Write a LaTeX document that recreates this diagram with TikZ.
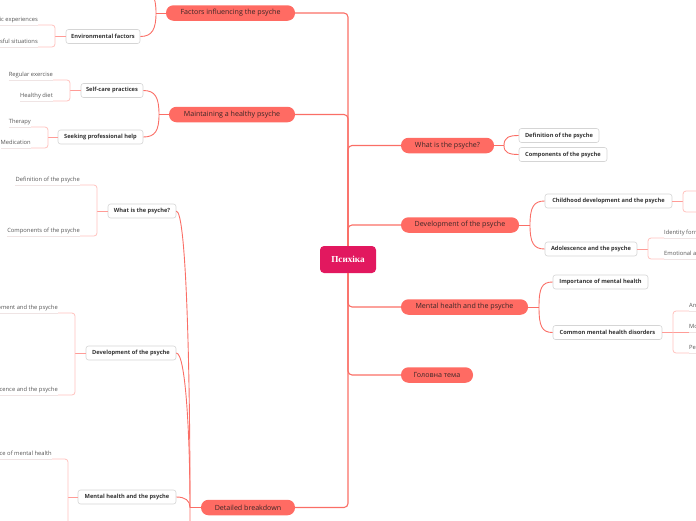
\documentclass[tikz,border=0pt]{standalone}
\usepackage{fontspec}
\setmainfont{Open Sans}
\newfontfamily\centfont{Liberation Serif}
\definecolor{trunkc}{HTML}{FA6E66}
\definecolor{mainf}{HTML}{FF6B63}
\definecolor{centf}{HTML}{E2185F}
\definecolor{subb}{HTML}{D5D5D5}
\definecolor{brc}{HTML}{FFC2BE}
\definecolor{stubc}{HTML}{FF9C97}
\definecolor{ulc}{HTML}{EFE4E4}
\definecolor{txtd}{HTML}{3A2626}
\definecolor{leaft}{HTML}{555555}
\tikzset{
  mainbox/.style={fill=mainf, rounded corners=7.5pt, minimum height=15.5pt, inner sep=0pt, text=txtd, font=\fontsize{7.1}{8.5}\selectfont},
  centbox/.style={fill=centf, rounded corners=4pt, minimum height=27pt, minimum width=56pt, inner sep=0pt, text=white, font=\centfont\bfseries\fontsize{9.2}{10}\selectfont},
  subbox/.style={fill=white, draw=subb, line width=0.6pt, rounded corners=2.5pt, minimum height=14pt, inner sep=0pt, text=black!80, font=\fontsize{5.7}{6.8}\selectfont\bfseries},
  leaf/.style={inner xsep=0pt, inner ysep=2.6pt, text height=4.2pt, text depth=1pt, text=leaft, font=\fontsize{5.8}{6.8}\selectfont},
  trunk/.style={draw=trunkc, line width=1.1pt, rounded corners=4pt},
  con/.style={draw=trunkc, line width=0.9pt},
  br/.style={draw=brc, line width=0.8pt, rounded corners=3pt},
  stub/.style={draw=stubc, line width=0.8pt},
  ul/.style={draw=ulc, line width=0.8pt}
}
\begin{document}
\begin{tikzpicture}[x=1pt, y=-1pt]
\useasboundingbox (0,0) rectangle (696,520);
\clip (0,0) rectangle (696,520);

% central
\node[centbox] (c) at (348,259.5) {Психіка};

% main topics
\node[mainbox, minimum width=129pt] (fac) at (230.5,13) {Factors influencing the psyche};
\node[mainbox, minimum width=126pt] (mhp) at (232,114.5) {Maintaining a healthy psyche};
\node[mainbox, minimum width=94pt] (det) at (248,507.5) {Detailed breakdown};
\node[mainbox, minimum width=93pt] (what) at (447.5,145.5) {What is the psyche?};
\node[mainbox, minimum width=118pt] (dev) at (460,225) {Development of the psyche};
\node[mainbox, minimum width=127pt] (mh) at (464.5,307) {Mental health and the psyche};
\node[mainbox, minimum width=72pt] (gt) at (437,375) {Головна тема};

% trunk
\draw[trunk] (c.north) |- (fac.east);
\draw[trunk] (c.north) |- (mhp.east);
\draw[trunk] (c.north) |- (what.west);
\draw[trunk] (c.north) |- (dev.west);
\draw[trunk] (c.south) |- (mh.west);
\draw[trunk] (c.south) |- (gt.west);
\draw[trunk] (c.south) |- (det.east);

% sub nodes
\node[subbox, minimum width=74pt] (env) at (103,36.5) {Environmental factors};
\node[subbox, minimum width=62pt] (self) at (112,90.5) {Self-care practices};
\node[subbox, minimum width=85pt] (seek) at (100.5,137) {Seeking professional help};
\node[subbox, minimum width=68pt] (what2) at (142,211) {What is the psyche?};
\node[subbox, minimum width=90pt] (dev2) at (131,353) {Development of the psyche};
\node[subbox, minimum width=98pt] (mh2) at (127,497) {Mental health and the psyche};
\node[subbox, minimum width=80pt] (def) at (559,135.5) {Definition of the psyche};
\node[subbox, minimum width=88pt] (comp) at (563,154.5) {Components of the psyche};
\node[subbox, minimum width=127pt] (child) at (608.5,201) {Childhood development and the psyche};
\node[subbox, minimum width=92pt] (adol) at (591,249) {Adolescence and the psyche};
\node[subbox, minimum width=95pt] (imp) at (600.5,282) {Importance of mental health};
\node[subbox, minimum width=109pt] (cmd) at (607.5,332.5) {Common mental health disorders};

% hidden ends (outside the picture)
\coordinate (bio) at (140,-12);
\coordinate (hidd) at (176,640);

% junctions
\coordinate (jf) at (156,13);
\coordinate (jm) at (159,114.5);
\coordinate (jw) at (504,145.5);
\coordinate (jd) at (530,225);
\coordinate (jh) at (539,307);
\coordinate (jb) at (190,507.5);

\draw[con] (fac.west) -- (jf);
\draw[con] (jf) .. controls +(0,16) and +(12,0) .. (env.east);
\draw[con] (jf) .. controls +(0,-16) and +(12,0) .. (bio);
\draw[con] (mhp.west) -- (jm);
\draw[con] (jm) .. controls +(0,-17) and +(12,0) .. (self.east);
\draw[con] (jm) .. controls +(0,16) and +(12,0) .. (seek.east);
\draw[con] (what.east) -- (jw);
\draw[con] (jw) .. controls +(0,-8) and +(-10,0) .. (def.west);
\draw[con] (jw) .. controls +(0,7) and +(-10,0) .. (comp.west);
\draw[con] (dev.east) -- (jd);
\draw[con] (jd) .. controls +(0,-18) and +(-11,0) .. (child.west);
\draw[con] (jd) .. controls +(0,18) and +(-11,0) .. (adol.west);
\draw[con] (mh.east) -- (jh);
\draw[con] (jh) .. controls +(0,-19) and +(-11,0) .. (imp.west);
\draw[con] (jh) .. controls +(0,19) and +(-11,0) .. (cmd.west);
\draw[con] (det.west) -- (jb);
\draw[con] (jb) .. controls (190,360) and (186,211) .. (what2.east);
\draw[con] (jb) .. controls (190,440) and (186,353) .. (dev2.east);
\draw[con] (jb) .. controls +(0,-7) and +(9,0) .. (mh2.east);
\draw[con] (jb) .. controls (190,580) and (186,640) .. (hidd);

% bracket points
\coordinate (benv) at (55,36.5);
\coordinate (bself) at (70,90.5);
\coordinate (bseek) at (48,137);
\coordinate (bwhat) at (97,211);
\coordinate (bdev) at (75,353);
\coordinate (bmh) at (68,497);
\coordinate (bchild) at (683,201);
\coordinate (badol) at (648,249);
\coordinate (bcmd) at (673,332.5);

% leaves left
\node[leaf, anchor=south east] (e1) at (38,25) {Traumatic experiences};
\node[leaf, anchor=south east] (e2) at (38,47) {Stressful situations};
\node[leaf, anchor=south east] (s1) at (53,80) {Regular exercise};
\node[leaf, anchor=south east] (s2) at (53,101) {Healthy diet};
\node[leaf, anchor=south east] (p1) at (31,127) {Therapy};
\node[leaf, anchor=south east] (p2) at (31,148) {Medication};
\node[leaf, anchor=south east] (w1) at (80,185) {Definition of the psyche};
\node[leaf, anchor=south east] (w2) at (80,236) {Components of the psyche};
\node[leaf, anchor=south east] (d1) at (58,313) {Childhood development and the psyche};
\node[leaf, anchor=south east] (d2) at (58,395) {Adolescence and the psyche};
\node[leaf, anchor=south east] (m1) at (52,459) {Importance of mental health};
\coordinate (m2) at (52,580);

% leaves right
\node[leaf, anchor=south west] (a1) at (664,238) {Identity formation};
\node[leaf, anchor=south west] (a2) at (664,259) {Emotional and social changes};
\node[leaf, anchor=south west] (k1) at (689,311) {Anxiety disorders};
\node[leaf, anchor=south west] (k2) at (689,332.5) {Mood disorders};
\node[leaf, anchor=south west] (k3) at (689,353) {Personality disorders};
\coordinate (c1) at (700,191);
\coordinate (c2) at (700,212);

% underlines
\foreach \l in {e1,e2,s1,s2,p1,p2,w1,w2,d1,d2,m1,a1,a2,k1,k2,k3}
  \draw[ul] (\l.south west) -- (\l.south east);

% left brackets
\draw[stub] (env.west) -- (benv);
\draw[br] (e1.south east) -- (benv|-e1.south) -- (benv|-e2.south) -- (e2.south east);
\draw[stub] (self.west) -- (bself);
\draw[br] (s1.south east) -- (bself|-s1.south) -- (bself|-s2.south) -- (s2.south east);
\draw[stub] (seek.west) -- (bseek);
\draw[br] (p1.south east) -- (bseek|-p1.south) -- (bseek|-p2.south) -- (p2.south east);
\draw[stub] (what2.west) -- (bwhat);
\draw[br] (w1.south east) -- (bwhat|-w1.south) -- (bwhat|-w2.south) -- (w2.south east);
\draw[stub] (dev2.west) -- (bdev);
\draw[br] (d1.south east) -- (bdev|-d1.south) -- (bdev|-d2.south) -- (d2.south east);
\draw[stub] (mh2.west) -- (bmh);
\draw[br] (m1.south east) -- (bmh|-m1.south) -- (bmh|-m2) -- (m2);

% right brackets
\draw[stub] (child.east) -- (bchild);
\draw[br] (c1) -- (bchild|-c1) -- (bchild|-c2) -- (c2);
\draw[stub] (adol.east) -- (badol);
\draw[br] (a1.south west) -- (badol|-a1.south) -- (badol|-a2.south) -- (a2.south west);
\draw[stub] (cmd.east) -- (k2.south west);
\draw[br] (k1.south west) -- (bcmd|-k1.south) -- (bcmd|-k3.south) -- (k3.south west);
\end{tikzpicture}
\end{document}
